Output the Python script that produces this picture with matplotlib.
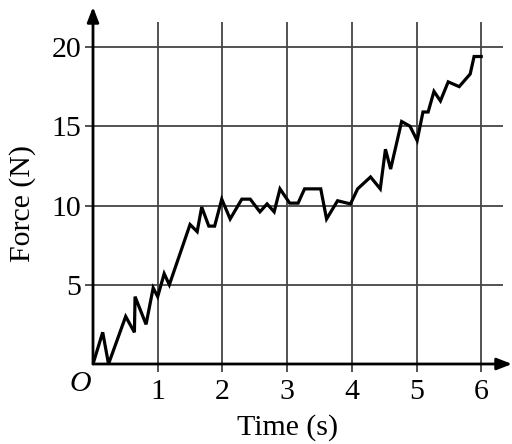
import matplotlib
matplotlib.use('Agg')
import matplotlib.pyplot as plt

plt.rcParams['font.family'] = ['Liberation Serif', 'DejaVu Serif']

# readings
time_s = [0, 0.15, 0.24, 0.505, 0.64, 0.65, 0.82, 0.93, 1.0, 1.1, 1.18, 1.5, 1.61,
          1.68, 1.79, 1.88, 1.99, 2.12, 2.3, 2.43, 2.58, 2.69, 2.8, 2.89, 3.04, 3.17,
          3.27, 3.52, 3.61, 3.78, 3.98, 4.09, 4.29, 4.44, 4.52, 4.6, 4.77, 4.9, 5.01,
          5.1, 5.18, 5.27, 5.37, 5.49, 5.66, 5.83, 5.89, 6.0]
force_n = [0, 2, 0, 3, 2, 4.25, 2.5, 4.8, 4.25, 5.7, 5.0, 8.8, 8.35,
           9.9, 8.7, 8.7, 10.4, 9.15, 10.4, 10.4, 9.6, 10.1, 9.6, 11.05, 10.15, 10.15,
           11.05, 11.05, 9.15, 10.3, 10.1, 11.05, 11.8, 11.05, 13.55, 12.3, 15.3, 15.0, 14.1,
           15.9, 15.9, 17.2, 16.6, 17.8, 17.5, 18.3, 19.4, 19.4]
x_ticks = [1, 2, 3, 4, 5, 6]
y_ticks = [5, 10, 15, 20]

W, H = 512, 444
fig = plt.figure(figsize=(W / 100, H / 100), dpi=100)
x0, x1, y0, y1 = 93, 512, 364, 7
ax = fig.add_axes([x0 / W, (H - y0) / H, (x1 - x0) / W, (y0 - y1) / H])
xmax = (x1 - x0) / 64.7
ymax = (y0 - y1) / 15.85
ax.set_xlim(0, xmax)
ax.set_ylim(0, ymax)
for s in ax.spines.values():
    s.set_visible(False)

# grid
ax.vlines(x_ticks, 0, (y0 - 22) / 15.85, color='#444444', lw=1.3, zorder=1)
ax.hlines(y_ticks, 0, (503 - x0) / 64.7, color='#444444', lw=1.3, zorder=1)

ax.plot(time_s, force_n, color='black', lw=2.3, zorder=3, solid_joinstyle='miter')

# axes with arrows
arr = dict(arrowstyle='-|>,head_length=0.9,head_width=0.35', color='black', lw=2,
           shrinkA=0, shrinkB=0)
ax.annotate('', xy=(xmax, 0), xytext=(0, 0), arrowprops=arr, annotation_clip=False)
ax.annotate('', xy=(0, ymax), xytext=(0, 0), arrowprops=arr, annotation_clip=False)

ax.set_xticks(x_ticks)
ax.set_yticks(y_ticks)
ax.set_xticklabels([str(v) for v in x_ticks])
ax.set_yticklabels([str(v) for v in y_ticks])
ax.tick_params(direction='out', length=5.5, width=1.3, color='#444444',
               labelsize=21.5, pad=3)
ax.tick_params(axis='x', pad=5)

fig.text(80 / W, 1 - 384 / H, 'O', fontsize=21.5, style='italic',
         ha='center', va='center')
fig.text(288 / W, 1 - 428 / H, 'Time (s)', fontsize=21.5, ha='center', va='center')
fig.text(23 / W, 1 - 204 / H, 'Force (N)', fontsize=21.5, ha='center', va='center',
         rotation=90)

fig.savefig('out.png', dpi=100)
